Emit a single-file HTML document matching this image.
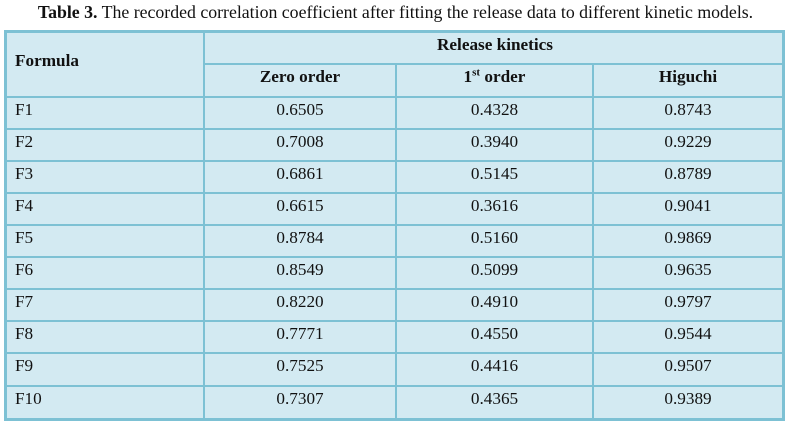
<!DOCTYPE html>
<html><head><style>
body{margin:0;width:791px;height:426px;background:#fff;font-family:"Liberation Serif",serif;color:#111;position:relative;overflow:hidden}
.t{position:absolute;top:2px;left:0;width:791px;text-align:center;font-size:17.8px;white-space:nowrap}
.c{position:absolute;background:#d3eaf2;}
.h{position:absolute;background:#7dc1d4}
.x{position:absolute;font-size:17.2px;line-height:17px;white-space:nowrap}
.b{font-weight:bold}
</style></head><body>
<div class="t"><b>Table 3.</b> The recorded correlation coefficient after fitting the release data to different kinetic models.</div>
<div class="c" style="left:4px;top:30px;width:781px;height:391px"></div>
<div class="h" style="left:4px;top:30px;width:781px;height:3px"></div>
<div class="h" style="left:4px;top:418px;width:781px;height:3px"></div>
<div class="h" style="left:4px;top:30px;width:3px;height:391px"></div>
<div class="h" style="left:782px;top:30px;width:3px;height:391px"></div>
<div class="h" style="left:203px;top:30px;width:2px;height:391px"></div>
<div class="h" style="left:395px;top:63px;width:2px;height:358px"></div>
<div class="h" style="left:592px;top:63px;width:2px;height:358px"></div>
<div class="h" style="left:204px;top:63px;width:580px;height:2px"></div>
<div class="h" style="left:4px;top:96px;width:781px;height:2px"></div>
<div class="h" style="left:4px;top:128px;width:781px;height:2px"></div>
<div class="h" style="left:4px;top:160px;width:781px;height:2px"></div>
<div class="h" style="left:4px;top:192px;width:781px;height:2px"></div>
<div class="h" style="left:4px;top:224px;width:781px;height:2px"></div>
<div class="h" style="left:4px;top:256px;width:781px;height:2px"></div>
<div class="h" style="left:4px;top:288px;width:781px;height:2px"></div>
<div class="h" style="left:4px;top:320px;width:781px;height:2px"></div>
<div class="h" style="left:4px;top:352px;width:781px;height:2px"></div>
<div class="h" style="left:4px;top:385px;width:781px;height:2px"></div>

<div class="x b" style="left:15px;top:52px">Formula</div>
<div class="x b" style="left:205px;width:580px;text-align:center;top:36px">Release kinetics</div>
<div class="x b" style="left:205px;width:190px;text-align:center;top:68px">Zero order</div>
<div class="x b" style="left:397px;width:195px;text-align:center;top:68px">1<sup style="font-size:11px;line-height:0">st</sup> order</div>
<div class="x b" style="left:594px;width:188px;text-align:center;top:68px">Higuchi</div>

<div id="rows"></div>
<script>
var d=[["F1","0.6505","0.4328","0.8743"],["F2","0.7008","0.3940","0.9229"],["F3","0.6861","0.5145","0.8789"],["F4","0.6615","0.3616","0.9041"],["F5","0.8784","0.5160","0.9869"],["F6","0.8549","0.5099","0.9635"],["F7","0.8220","0.4910","0.9797"],["F8","0.7771","0.4550","0.9544"],["F9","0.7525","0.4416","0.9507"],["F10","0.7307","0.4365","0.9389"]];
var tops=[98,130,162,194,226,258,290,322,354,387],h="";
d.forEach(function(r,i){var t=tops[i]+3;
h+='<div class="x" style="left:15px;top:'+t+'px">'+r[0]+'</div>';
h+='<div class="x" style="left:205px;width:190px;text-align:center;top:'+t+'px">'+r[1]+'</div>';
h+='<div class="x" style="left:397px;width:195px;text-align:center;top:'+t+'px">'+r[2]+'</div>';
h+='<div class="x" style="left:594px;width:188px;text-align:center;top:'+t+'px">'+r[3]+'</div>';});
document.getElementById("rows").innerHTML=h;
</script>
</body></html>
